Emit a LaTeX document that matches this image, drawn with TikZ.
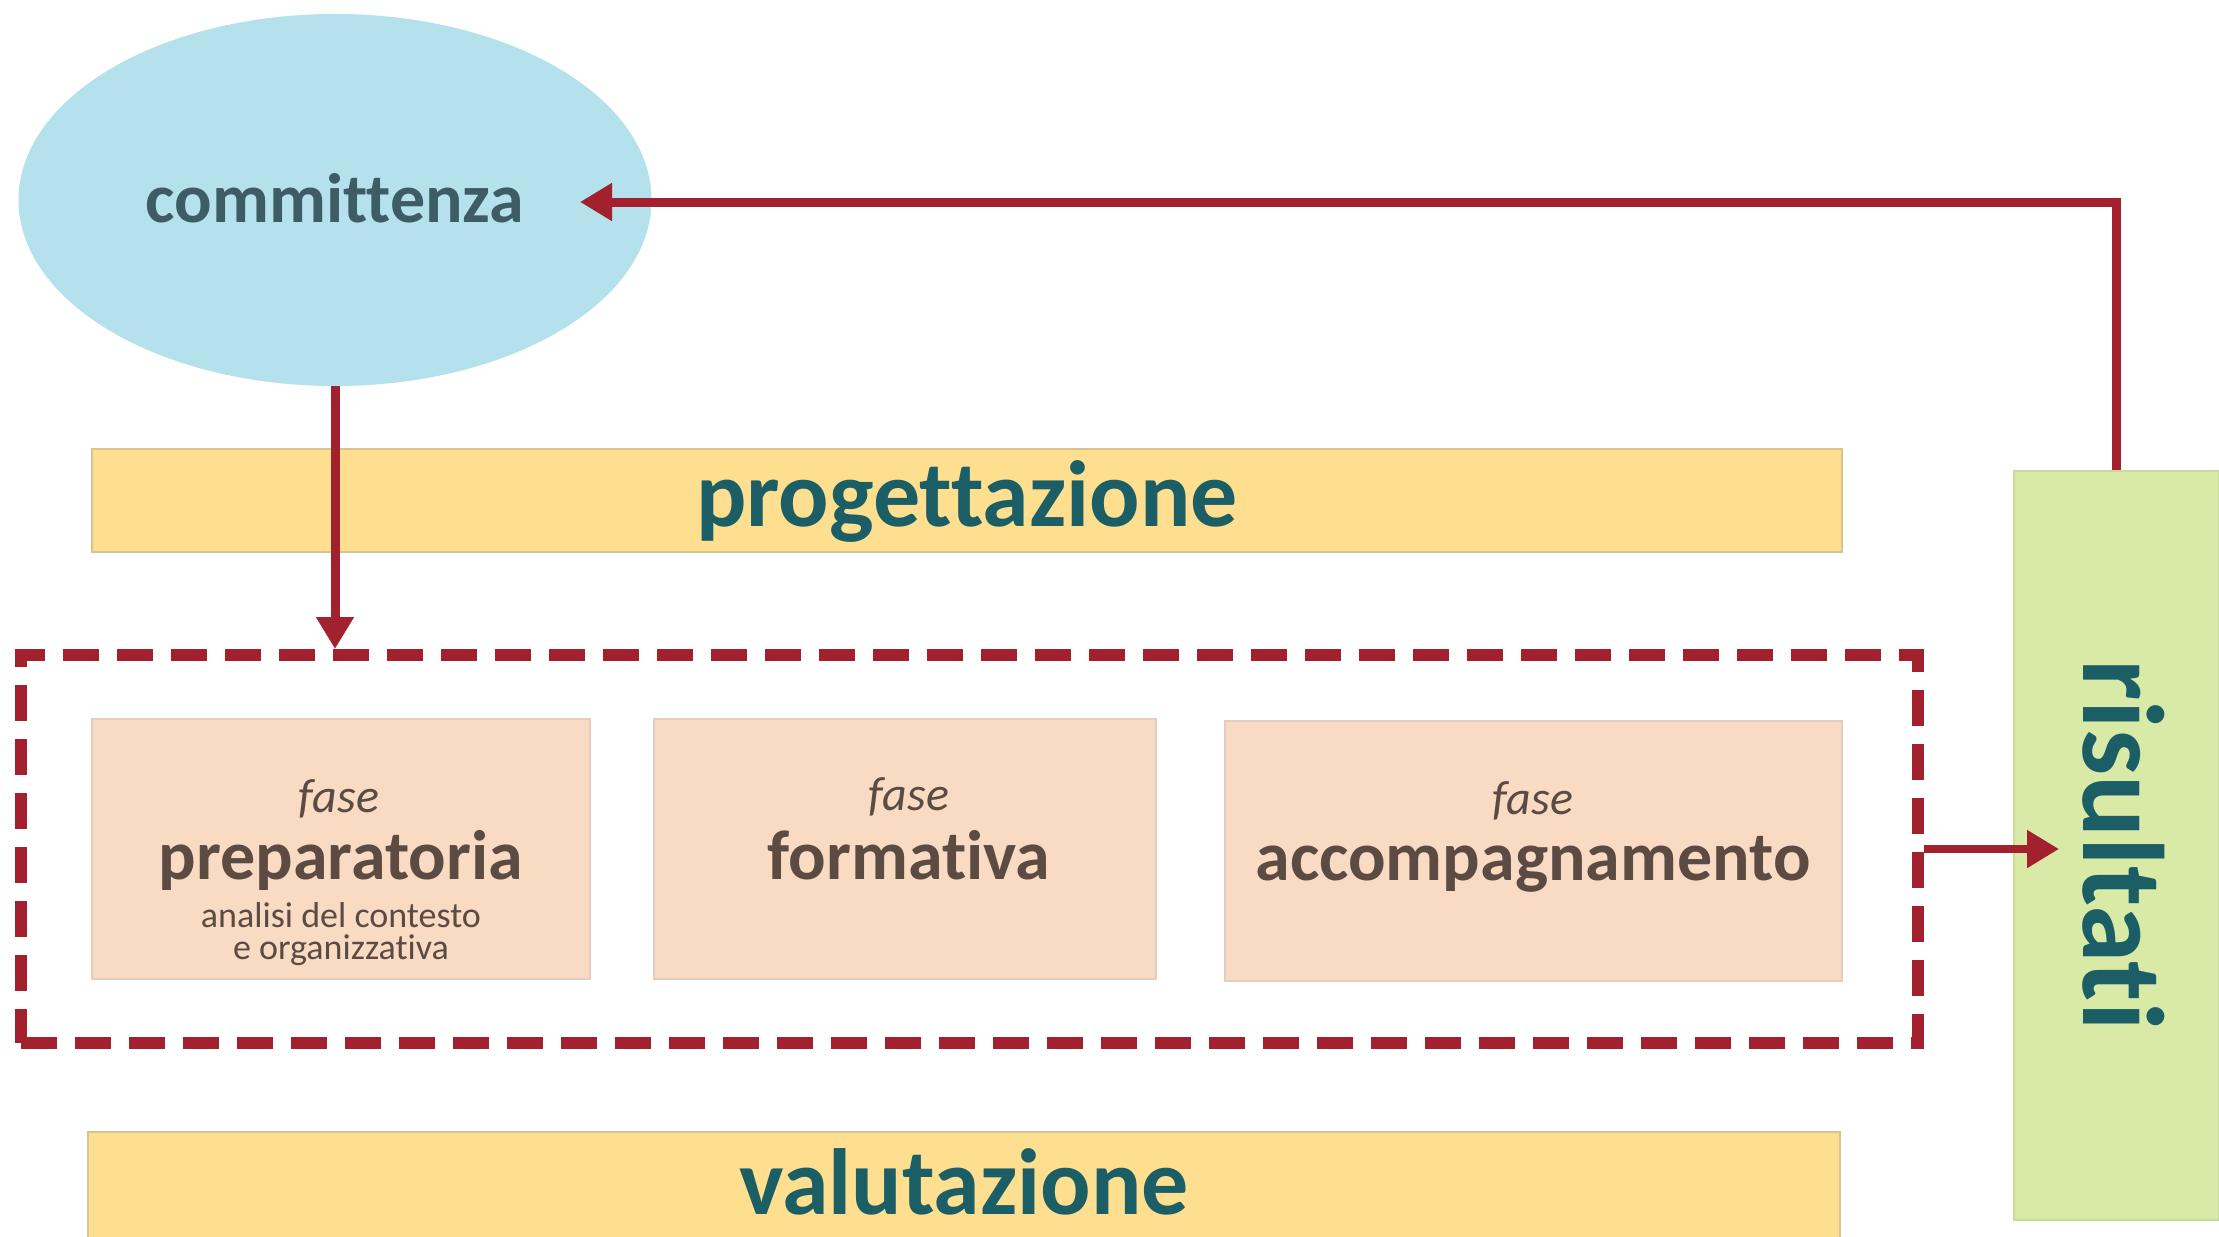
\documentclass[tikz,border=0pt]{standalone}
\usepackage{fontspec}
\setmainfont{Carlito}[Ligatures={NoCommon}]
\usetikzlibrary{arrows.meta,shapes.geometric}
\definecolor{cred}{HTML}{A3212F}
\definecolor{cblue}{HTML}{B4E1EC}
\definecolor{ctxtblue}{HTML}{3E5C66}
\definecolor{cbar}{HTML}{FDDF8F}
\definecolor{cbarline}{HTML}{D9C38E}
\definecolor{cteal}{HTML}{1B5E66}
\definecolor{cpeach}{HTML}{F9DBC3}
\definecolor{cpeachline}{HTML}{E3CDBE}
\definecolor{cbrown}{HTML}{5C4B43}
\definecolor{cgreen}{HTML}{D8EAA5}
\definecolor{cgreenline}{HTML}{C9DB98}
\tikzset{
  bar/.style={rectangle, fill=cbar, draw=cbarline, line width=1pt, inner sep=0pt},
  phasebox/.style={rectangle, fill=cpeach, draw=cpeachline, line width=1pt, inner sep=0pt},
  bigtxt/.style={anchor=base, inner sep=0pt, text=cteal, font=\fontsize{47}{50}\selectfont\bfseries},
  fasetxt/.style={anchor=base, inner sep=0pt, text=cbrown, font=\fontsize{24}{26}\selectfont\itshape},
  phasetxt/.style={anchor=base, inner sep=0pt, text=cbrown, font=\fontsize{35}{38}\selectfont\bfseries},
  subtxt/.style={anchor=base, inner sep=0pt, text=cbrown, font=\fontsize{18}{19}\selectfont},
  conn/.style={draw=cred, line width=4.5pt, -{Triangle[length=16pt,width=18pt]}},
}
\begin{document}
\begin{tikzpicture}[x=0.5pt,y=-0.5pt]
\useasboundingbox (0,0) rectangle (2219,1236);
\fill[white] (0,0) rectangle (2219,1236);

% ellipse
\node[ellipse, fill=cblue, inner sep=0pt, minimum width=316.5pt, minimum height=186pt] (comm) at (335,200) {};
\node[anchor=base, inner sep=0pt, text=ctxtblue, font=\fontsize{35}{38}\selectfont\bfseries] (commt) at (335,222) {committenza};

% bars
\node[bar, minimum width=875pt, minimum height=51.5pt] (prog) at (967,500.5) {};
\node[bigtxt] (progt) at (967,526) {progettazione};
\node[bar, minimum width=876pt, minimum height=59pt] (valu) at (964,1191) {};
\node[bigtxt] (valut) at (964,1214) {valutazione};

% dashed frame
\node[rectangle, draw=cred, line width=6pt, dash pattern=on 18pt off 9pt, minimum width=948.5pt, minimum height=194pt, inner sep=0pt] (dash) at (969.5,849) {};

% phase boxes
\node[phasebox, minimum width=249pt, minimum height=130pt] (b1) at (341,849) {};
\node[phasebox, minimum width=251pt, minimum height=130pt] (b2) at (905,849) {};
\node[phasebox, minimum width=308.5pt, minimum height=130pt] (b3) at (1533.5,851) {};

\node[fasetxt] (f1) at (339,812) {fase};
\node[phasetxt] (p1) at (341,879) {preparatoria};
\node[subtxt] (s1) at (341,927) {analisi del contesto};
\node[subtxt] (s2) at (341,959) {e organizzativa};

\node[fasetxt] (f2) at (909,810) {fase};
\node[phasetxt] (p2) at (909,879) {formativa};

\node[fasetxt] (f3) at (1533,814) {fase};
\node[phasetxt] (p3) at (1533,880) {accompagnamento};

% risultati
\node[rectangle, fill=cgreen, draw=cgreenline, line width=1pt, minimum width=102.5pt, minimum height=374.5pt, inner sep=0pt] (ris) at (2116.5,845.5) {};
\node[anchor=base, inner sep=0pt, rotate=-90, text=cteal, font=\fontsize{58}{60}\selectfont\bfseries] (rist) at (2083,845) {risultati};

% connectors
\coordinate (ctip) at (580,202);
\coordinate (rtip) at (2059,849);
\draw[conn] (comm.south) -- (comm.south |- dash.north);
\draw[conn] (ris.north) |- (ctip);
\draw[conn, line width=4pt] (dash.east) -- (rtip);
\end{tikzpicture}
\end{document}
